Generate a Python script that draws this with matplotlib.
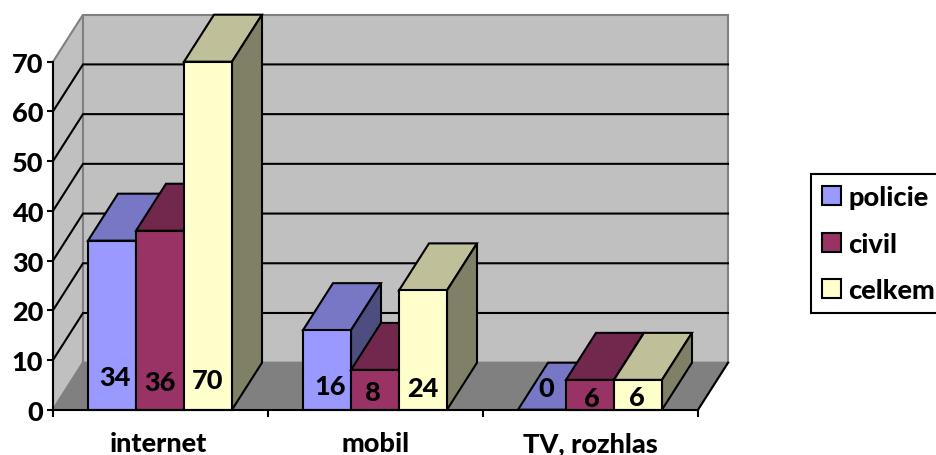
import matplotlib
matplotlib.use('Agg')
import matplotlib.pyplot as plt
from matplotlib.patches import Polygon, Patch

categories = ['internet', 'mobil', 'TV, rozhlas']
series_names = ['policie', 'civil', 'celkem']
policie = [34, 16, 0]
civil = [36, 8, 6]
celkem = [70, 24, 6]
y_ticks = [0, 10, 20, 30, 40, 50, 60, 70]

front_colors = ['#9999FF', '#993366', '#FFFFCC']
top_colors = ['#7777C6', '#72284C', '#BFBF99']
side_colors = ['#4D4D80', '#4D1A33', '#808066']

# the value labels sit by hand in the original, so these are pixel spots
label_rows = [[377, 382, 380], [386, 392, 388], [388, 398, 397]]
label_cols = [[115, 160, 208], [330, 373, 423], [546, 592, 637]]

plt.rcParams['font.family'] = ['Lato', 'DejaVu Sans']
plt.rcParams['font.weight'] = 'black'
fs = 19.5

W, H = 936, 456
fig = plt.figure(figsize=(W / 100, H / 100), dpi=100)
ax = fig.add_axes([53 / W, (H - 410.7) / H, 645 / W, 348 / H])
ax.set_xlim(0, 3)
ax.set_ylim(0, 70)

# pixels to data units
px = 3 / 645
py = 70 / 348
dx = 30 * px
dy = 47 * py


def poly(points, color, edge='black', lw=1.5, z=2):
    ax.add_patch(Polygon(points, closed=True, facecolor=color, edgecolor=edge,
                         linewidth=lw, clip_on=False, zorder=z, joinstyle='miter'))


# walls and floor
poly([(0, 0), (0, 70), (dx, 70 + dy), (dx, dy)], '#C0C0C0', '#808080', 1.5, 1)
poly([(dx, dy), (dx, 70 + dy), (3 + dx, 70 + dy), (3 + dx, dy)], '#C0C0C0', '#808080', 1.5, 1)
poly([(0, 0), (dx, dy), (3 + dx, dy), (3, 0)], '#808080', '#808080', 1.5, 1)
ax.plot([3, 3 + dx], [0, dy], color='black', lw=1.5, clip_on=False, zorder=1.5)

# grid lines on left and back wall
for v in y_ticks[1:-1]:
    ax.plot([0, dx, 3 + dx], [v, v + dy, v + dy], color='black', lw=1.5,
            clip_on=False, zorder=1.5, solid_joinstyle='miter')

bar_w = 48 * px
start = 35 * px
values = [policie, civil, celkem]

for c in range(len(categories)):
    for s in range(len(series_names)):
        v = values[s][c]
        x0 = c + start + s * bar_w
        x1 = x0 + bar_w
        z = 3 + c + s * 0.1
        poly([(x0, v), (x0 + dx, v + dy), (x1 + dx, v + dy), (x1, v)], top_colors[s], z=z)
        poly([(x1, 0), (x1 + dx, dy), (x1 + dx, v + dy), (x1, v)], side_colors[s], z=z)
        if v > 0:
            poly([(x0, 0), (x0, v), (x1, v), (x1, 0)], front_colors[s], z=z + 0.01)
        ax.text((label_cols[c][s] - 53) * px, (410 - label_rows[c][s]) * py, str(v),
                ha='center', va='center', fontsize=fs, color='black', zorder=10, clip_on=False)

# axes
for name in ['top', 'right']:
    ax.spines[name].set_visible(False)
for name in ['left', 'bottom']:
    ax.spines[name].set_linewidth(1.5)
    ax.spines[name].set_zorder(9)
ax.patch.set_visible(False)

ax.set_yticks(y_ticks)
ax.tick_params(axis='y', direction='out', length=4, width=1.5, labelsize=fs, pad=3)
ax.set_xticks([0, 1, 2, 3], labels=[])
ax.tick_params(axis='x', which='major', direction='out', length=5, width=1.5)
ax.set_xticks([0.49, 1.5, 2.5], labels=categories, minor=True)
ax.tick_params(axis='x', which='minor', length=0, labelsize=fs, pad=15.5)

handles = [Patch(facecolor=front_colors[i], edgecolor='black', linewidth=1.5)
           for i in range(3)]
leg = fig.legend(handles, series_names, loc='upper left',
                 bbox_to_anchor=(811 / W, (H - 175) / H), bbox_transform=fig.transFigure,
                 fontsize=fs, frameon=True, fancybox=False, edgecolor='black',
                 framealpha=1, handlelength=0.7, handleheight=0.7, handletextpad=0.25,
                 labelspacing=0.82, borderpad=0.42, borderaxespad=0)
leg.get_frame().set_linewidth(1.5)

fig.savefig('out.png', dpi=100)
